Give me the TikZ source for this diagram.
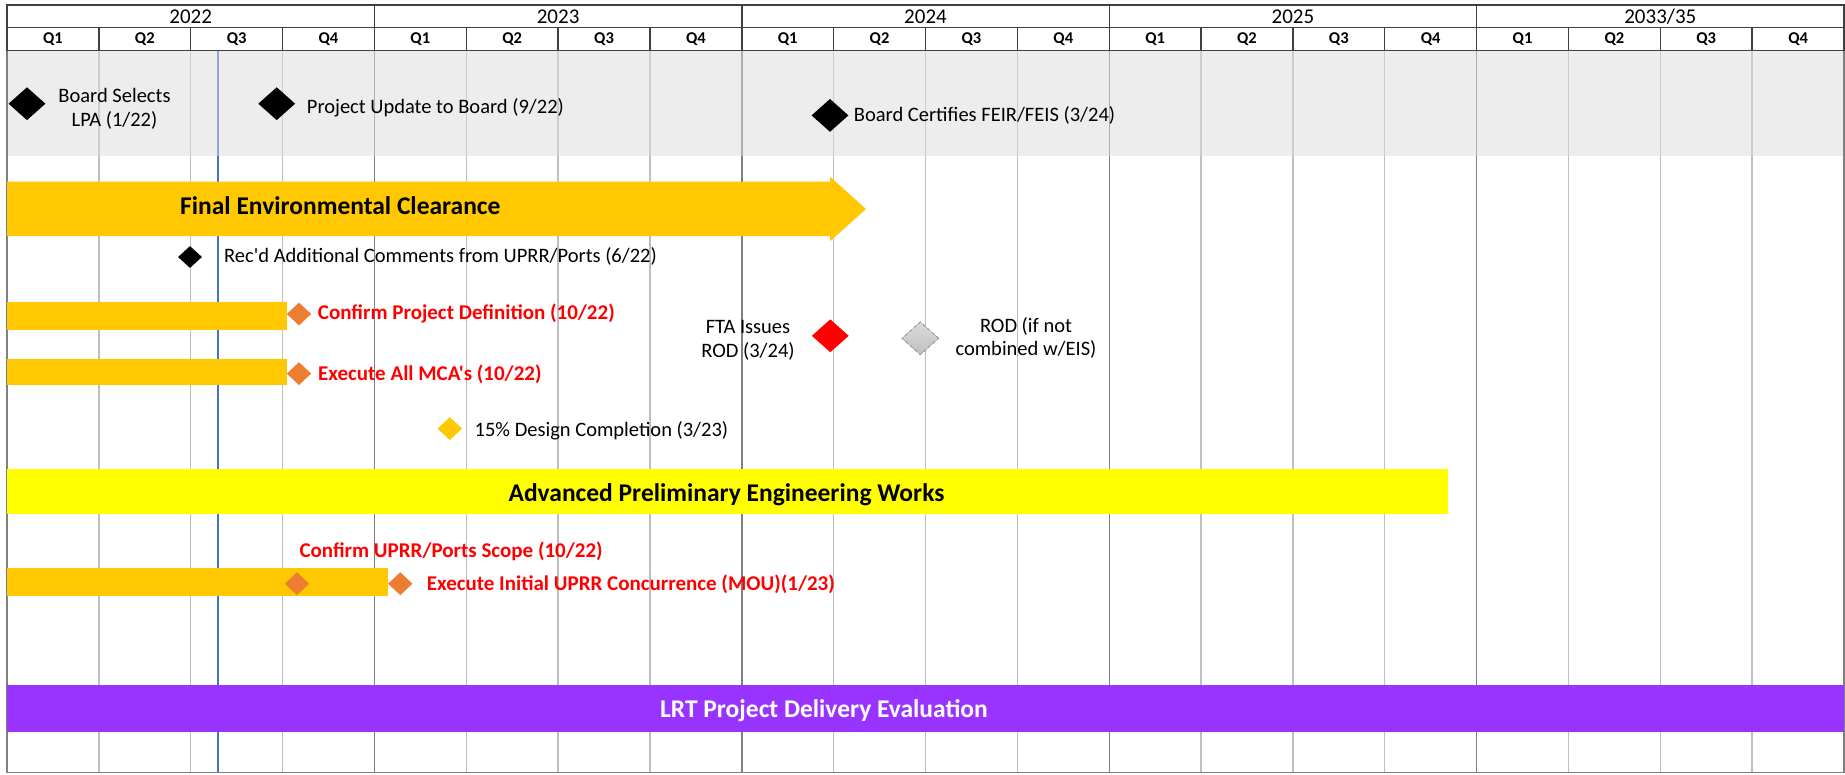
\documentclass[tikz,border=0pt]{standalone}
\usepackage{fontspec}
\setmainfont{Carlito}[Ligatures=TeXOff]
\usetikzlibrary{shapes.geometric}
\definecolor{goldbar}{HTML}{FFC800}
\definecolor{yelbar}{HTML}{FFFF00}
\definecolor{purbar}{HTML}{9933FF}
\definecolor{orgdia}{HTML}{ED7D31}
\definecolor{reddia}{HTML}{FF0000}
\definecolor{redtxt}{HTML}{FF0000}
\definecolor{bluel}{HTML}{4472C4}
\definecolor{qline}{HTML}{BFBFBF}
\definecolor{yline}{HTML}{808080}
\definecolor{hline}{HTML}{404040}
\definecolor{bandc}{HTML}{DCDCDC}
\tikzset{
  lbl/.style={inner sep=0pt, text=black, font=\fontsize{20.5}{23.5}\selectfont},
  redlbl/.style={inner sep=0pt, text=redtxt, font=\bfseries\fontsize{21}{23.5}\selectfont},
  barlbl/.style={inner sep=0pt, text=black, font=\bfseries\fontsize{25.5}{30}\selectfont},
  yearlbl/.style={inner sep=0pt, font=\fontsize{21}{24}\selectfont},
  qlbl/.style={inner sep=0pt, font=\bfseries\fontsize{16.5}{20}\selectfont},
  bigdia/.style={diamond, inner sep=0pt, minimum width=37pt, minimum height=33pt, fill=black},
  smalldia/.style={diamond, inner sep=0pt, minimum width=24.5pt, minimum height=23pt},
  qrule/.style={qline, line width=1.4pt},
  yrule/.style={yline, line width=1.4pt},
  hrule/.style={hline, line width=1.4pt},
}
\begin{document}
\begin{tikzpicture}[x=1pt,y=-1pt]
\useasboundingbox (0,0) rectangle (1845,774);
\fill[white] (0,0) rectangle (1845,774);
% body grid
\foreach \i in {1,...,19}{
  \pgfmathsetmacro\xx{7+91.85*\i}
  \pgfmathtruncatemacro\m{mod(\i,4)}
  \ifnum\m=0
    \draw[yrule] (\xx,50.7) -- (\xx,772.5);
  \else
    \draw[qrule] (\xx,50.7) -- (\xx,772.5);
  \fi
}
\draw[bluel, line width=2pt] (217.7,50.7) -- (217.7,772.5);
\fill[bandc, fill opacity=0.5] (7,50.7) rectangle (1844,156);
\draw[yrule] (7,50.7) -- (7,772.5) -- (1844,772.5) -- (1844,50.7);
% bars
\fill[goldbar] (7,181.7) -- (830,181.7) -- (830,176.7) -- (866,209) -- (830,241.3) -- (830,236) -- (7,236) -- cycle;
\fill[goldbar] (7,301.6) rectangle (287,329.7);
\fill[goldbar] (7,359) rectangle (287,385);
\fill[yelbar] (7,469) rectangle (1448,514);
\fill[goldbar] (7,568.3) rectangle (387.7,596);
\fill[purbar] (7,685) rectangle (1844,732);
% milestones
\node[bigdia] (d1) at (27,103.7) {};
\node[bigdia] (d2) at (276.7,103.7) {};
\node[bigdia] (d3) at (830,115.4) {};
\node[smalldia, fill=black, minimum width=24pt, minimum height=22pt] (d4) at (190,257) {};
\node[smalldia, fill=orgdia] (d5) at (299,314) {};
\node[smalldia, fill=orgdia] (d6) at (299,373.6) {};
\node[bigdia, fill=reddia] (d7) at (830.3,335.8) {};
\node[bigdia, top color=gray!28, bottom color=gray!50, draw=gray!80, dashed, line width=1pt] (d8) at (920.3,338.3) {};
\node[smalldia, fill=goldbar] (d9) at (449.8,428.6) {};
\node[smalldia, fill=orgdia] (d10) at (297,583.7) {};
\node[smalldia, fill=orgdia] (d11) at (400.3,583.7) {};
% labels
\node[lbl, align=center] (t1) at (114.5,109) {Board Selects\\LPA (1/22)};
\node[lbl, anchor=west] (t2) at (306.7,107.6) {Project Update to Board (9/22)};
\node[lbl, anchor=west] (t3) at (853.7,115.4) {Board Certifies FEIR/FEIS (3/24)};
\node[barlbl, anchor=west] (t4) at (180,205.5) {Final Environmental Clearance};
\node[lbl, anchor=west] (t5) at (224,256.5) {Rec'd Additional Comments from UPRR/Ports (6/22)};
\node[redlbl, anchor=west] (t6) at (317.7,313.5) {Confirm Project Definition (10/22)};
\node[redlbl, anchor=west] (t7) at (318,374) {Execute All MCA's (10/22)};
\node[lbl, align=center] (t8) at (748,340.3) {FTA Issues\\ROD (3/24)};
\node[lbl, align=center] (t9) at (1026,338) {ROD (if not\\combined w/EIS)};
\node[lbl, anchor=west] (t10) at (474.5,431) {15\% Design Completion (3/23)};
\node[barlbl] (t11) at (726.5,494.5) {Advanced Preliminary Engineering Works};
\node[redlbl, anchor=west] (t12) at (299.3,551) {Confirm UPRR/Ports Scope (10/22)};
\node[redlbl, anchor=west] (t13) at (426.7,584) {Execute Initial UPRR Concurrence (MOU)(1/23)};
\node[barlbl, text=white] (t14) at (824,711) {LRT Project Delivery Evaluation};
% header
\fill[white] (7,5) rectangle (1844,50.7);
\draw[hrule] (7,5) rectangle (1844,50.7);
\draw[hrule] (7,27.7) -- (1844,27.7);
\foreach \i in {1,...,19}{
  \pgfmathsetmacro\xx{7+91.85*\i}
  \pgfmathtruncatemacro\m{mod(\i,4)}
  \ifnum\m=0
    \draw[hrule] (\xx,5) -- (\xx,50.7);
  \else
    \draw[hrule] (\xx,27.7) -- (\xx,50.7);
  \fi
}
\foreach \y [count=\k from 0] in {2022,2023,2024,2025,2033/35}{
  \node[yearlbl] (yr\k) at ({7+91.85*(4*\k+2)},16.8) {\y};
}
\foreach \k in {0,...,4}{
  \foreach \q in {1,...,4}{
    \node[qlbl] (q\k\q) at ({7+91.85*(4*\k+\q-0.5)},39.5) {Q\q};
  }
}
\end{tikzpicture}
\end{document}
